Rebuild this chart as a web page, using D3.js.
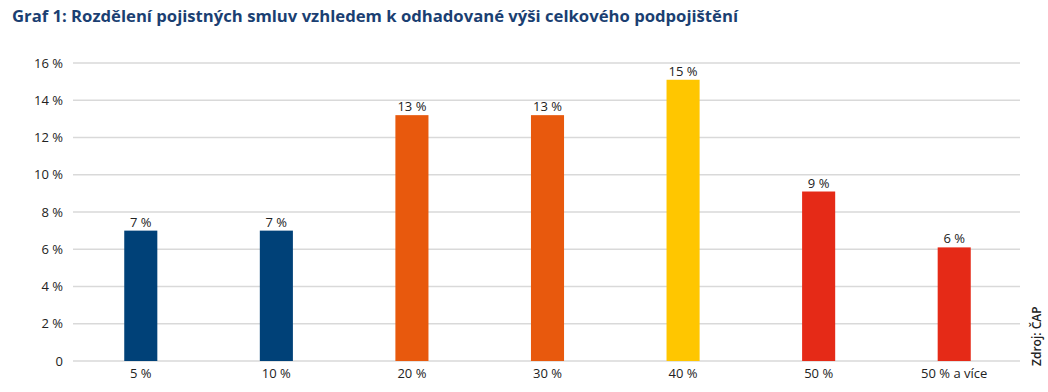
<!DOCTYPE html>
<html>
  <head>
    <meta charset="utf-8" />
    <script src="https://d3js.org/d3.v7.min.js"></script>
    <style>
      body { margin: 0; background: #fff; }
      text { font-family: "Open Sans", "DejaVu Sans", sans-serif; }
    </style>
  </head>
  <body>
    <svg id="chart" width="1048" height="392"></svg>
    <script>
      // Data
      const categories = ["5 %", "10 %", "20 %", "30 %", "40 %", "50 %", "50 % a více"];
      const values = [7.0, 7.0, 13.2, 13.2, 15.1, 9.1, 6.1];
      const valueLabels = ["7 %", "7 %", "13 %", "13 %", "15 %", "9 %", "6 %"];
      const colors = ["#004178", "#004178", "#E8590D", "#E8590D", "#FFC600", "#E52A17", "#E52A17"];
      const yTicks = [0, 2, 4, 6, 8, 10, 12, 14, 16];

      const width = 1048;
      const height = 392;
      const margin = { top: 63, right: 28, bottom: 31, left: 73 };
      const svg = d3.select("#chart");

      // Titulek
      svg.append("text")
        .attr("x", 12)
        .attr("y", 22)
        .attr("fill", "#1B3F72")
        .attr("font-size", "16px")
        .attr("font-weight", "bold")
        .attr("font-family", "Roboto, sans-serif")
        .attr("textLength", 726)
        .attr("lengthAdjust", "spacingAndGlyphs")
        .text("Graf 1: Rozdělení pojistných smluv vzhledem k odhadované výši celkového podpojištění");

      // Škály
      const x = d3.scaleBand()
        .domain(categories)
        .range([73, 1022])
        .paddingInner(0.756)
        .paddingOuter(0.378);
      const y = d3.scaleLinear()
        .domain([0, 16])
        .range([height - margin.bottom, margin.top]);

      // Mřížka
      svg.append("g")
        .selectAll("line")
        .data(yTicks)
        .join("line")
        .attr("x1", margin.left)
        .attr("x2", width - margin.right)
        .attr("y1", (d) => y(d))
        .attr("y2", (d) => y(d))
        .attr("stroke", "#d9d9d9")
        .attr("stroke-width", 1.5);

      // Osa y
      const yAxis = d3.axisLeft(y)
        .tickValues(yTicks)
        .tickSize(0)
        .tickPadding(10)
        .tickFormat((d) => (d === 0 ? "0" : d + " %"));
      svg.append("g")
        .attr("transform", `translate(${margin.left},0)`)
        .call(yAxis)
        .call((g) => g.select(".domain").remove())
        .selectAll("text")
        .attr("font-size", "13px")
        .attr("fill", "#222")
        .attr("font-family", "\"Open Sans\", sans-serif");

      // Osa x
      const xAxis = d3.axisBottom(x).tickSize(0).tickPadding(8);
      svg.append("g")
        .attr("transform", `translate(0,${height - margin.bottom})`)
        .call(xAxis)
        .call((g) => g.select(".domain").remove())
        .selectAll("text")
        .attr("font-size", "13px")
        .attr("fill", "#222")
        .attr("font-family", "\"Open Sans\", sans-serif");

      // Sloupce
      svg.append("g")
        .selectAll("rect")
        .data(values)
        .join("rect")
        .attr("x", (d, i) => x(categories[i]))
        .attr("y", (d) => y(d))
        .attr("width", x.bandwidth())
        .attr("height", (d) => y(0) - y(d))
        .attr("fill", (d, i) => colors[i]);

      // Popisky hodnot
      svg.append("g")
        .selectAll("text")
        .data(values)
        .join("text")
        .attr("x", (d, i) => x(categories[i]) + x.bandwidth() / 2)
        .attr("y", (d) => y(d) - 4)
        .attr("text-anchor", "middle")
        .attr("font-size", "13px")
        .attr("fill", "#222")
        .text((d, i) => valueLabels[i]);

      // Zdroj
      svg.append("text")
        .attr("transform", `translate(1041,366) rotate(-90)`)
        .attr("font-size", "12px")
        .attr("font-weight", "600")
        .attr("fill", "#222")
        .text("Zdroj: ČAP");
    </script>
  </body>
</html>
